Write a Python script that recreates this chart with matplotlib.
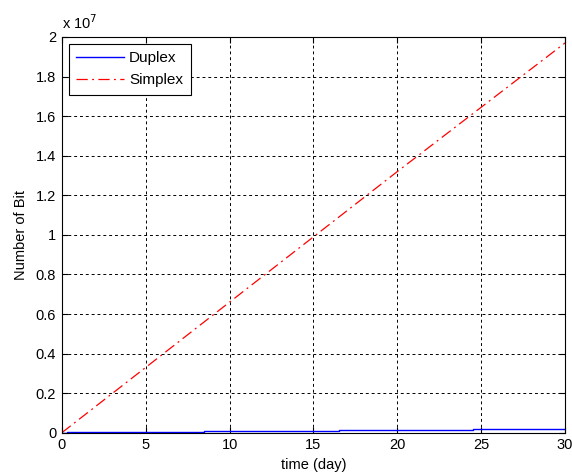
import numpy as np
import matplotlib.pyplot as plt
from matplotlib.ticker import FuncFormatter, MultipleLocator

plt.rcParams['font.family'] = ['Liberation Sans', 'DejaVu Sans']

# readings
simplex_t = [0, 5, 10, 15, 20, 25, 30]
simplex_bits = [0, 3.3e6, 6.6e6, 9.9e6, 1.32e7, 1.645e7, 1.97e7]

duplex_t = [0, 0.3, 0.3, 8.5, 8.5, 16.5, 16.5, 24.5, 24.5, 30]
duplex_bits = [0, 0, 5e4, 5e4, 1.0e5, 1.0e5, 1.5e5, 1.5e5, 2.0e5, 2.0e5]

fig = plt.figure(figsize=(5.72, 4.74), dpi=100)
ax = fig.add_axes([0.108, 0.087, 0.88, 0.835])

ax.plot(duplex_t, duplex_bits, color='blue', lw=1.0, label='Duplex')
ax.plot(simplex_t, simplex_bits, color='red', lw=0.9, ls=(0, (9, 3.5, 1.5, 3.5)), label='Simplex')

ax.set_xlim(0, 30)
ax.set_ylim(0, 2e7)
ax.xaxis.set_major_locator(MultipleLocator(5))
ax.yaxis.set_major_locator(MultipleLocator(2e6))
ax.yaxis.set_major_formatter(FuncFormatter(lambda v, p: '%g' % round(v / 1e7, 1)))

ax.grid(True, color='black', ls=(0, (3, 3)), lw=0.7)
ax.tick_params(direction='in', top=True, right=True, labelsize=10.5, length=4, pad=4)
for s in ax.spines.values():
    s.set_linewidth(0.8)

ax.set_xlabel('time (day)', fontsize=10.5, labelpad=4)
ax.set_ylabel('Number of Bit', fontsize=10.5, labelpad=6)
ax.text(0.0, 1.012, r'x 10$^{7}$', transform=ax.transAxes, fontsize=10.5, va='bottom')

leg = ax.legend(loc='upper left', fontsize=11, handlelength=3.1, handletextpad=0.35,
                fancybox=False, framealpha=1, edgecolor='black', borderaxespad=0.45,
                borderpad=0.5, labelspacing=0.5)
leg.get_frame().set_linewidth(0.8)

plt.savefig('out.png', dpi=100)
